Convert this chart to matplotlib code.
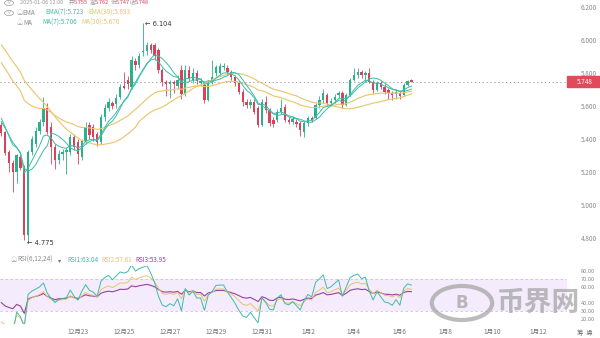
import numpy as np
import pandas as pd
import matplotlib
matplotlib.use('Agg')
import matplotlib.pyplot as plt
import matplotlib.transforms as mtransforms
from matplotlib.patches import Rectangle, Circle

plt.rcParams['font.family'] = ['Noto Sans CJK SC', 'DejaVu Sans']

# 4h candles, 2024-12-19 16:00 -> 2025-01-06 12:00
start_time = '2024-12-19 16:00'

opens = [5.485, 5.44, 5.32, 5.255, 5.20, 5.29, 5.225, 4.82, 5.32, 5.37,
         5.45, 5.50, 5.59, 5.47, 5.35, 5.27, 5.31, 5.32, 5.32, 5.41,
         5.38, 5.29, 5.39, 5.485, 5.47, 5.43, 5.38, 5.53, 5.588, 5.62,
         5.61, 5.655, 5.72, 5.76, 5.715, 5.87, 5.85, 5.925, 5.93, 5.97,
         5.97, 5.94, 5.82, 5.745, 5.73, 5.745, 5.72, 5.82, 5.67, 5.82,
         5.76, 5.80, 5.74, 5.727, 5.636, 5.745, 5.80, 5.80, 5.836, 5.83,
         5.806, 5.776, 5.74, 5.685, 5.624, 5.606, 5.624, 5.59, 5.485, 5.624,
         5.576, 5.515, 5.515, 5.564, 5.594, 5.515, 5.50, 5.50, 5.497, 5.44,
         5.497, 5.527, 5.527, 5.606, 5.636, 5.667, 5.618, 5.636, 5.667, 5.68,
         5.606, 5.667, 5.758, 5.788, 5.806, 5.79, 5.80, 5.745, 5.697, 5.74,
         5.715, 5.697, 5.68, 5.675, 5.68, 5.667, 5.727, 5.755]
highs = [5.50, 5.45, 5.33, 5.27, 5.31, 5.31, 5.24, 5.33, 5.42, 5.47,
         5.52, 5.655, 5.62, 5.50, 5.37, 5.33, 5.34, 5.35, 5.43, 5.43,
         5.40, 5.40, 5.50, 5.50, 5.49, 5.44, 5.55, 5.61, 5.65, 5.63,
         5.67, 5.73, 5.806, 5.78, 5.90, 5.89, 5.92, 6.104, 5.99, 5.98,
         5.98, 5.95, 5.83, 5.76, 5.76, 5.76, 5.79, 5.85, 5.85, 5.84,
         5.83, 5.82, 5.77, 5.75, 5.76, 5.88, 5.85, 5.86, 5.86, 5.85,
         5.82, 5.79, 5.75, 5.70, 5.64, 5.64, 5.64, 5.60, 5.64, 5.66,
         5.59, 5.53, 5.58, 5.64, 5.61, 5.53, 5.54, 5.52, 5.51, 5.51,
         5.54, 5.54, 5.62, 5.66, 5.70, 5.68, 5.65, 5.67, 5.69, 5.69,
         5.68, 5.77, 5.83, 5.83, 5.82, 5.81, 5.83, 5.76, 5.75, 5.75,
         5.73, 5.71, 5.69, 5.70, 5.69, 5.74, 5.76, 5.762]
lows = [5.42, 5.30, 5.20, 5.08, 5.13, 5.21, 4.79, 4.775, 5.30, 5.35,
        5.43, 5.48, 5.43, 5.25, 5.22, 5.25, 5.27, 5.19, 5.30, 5.33,
        5.25, 5.27, 5.37, 5.40, 5.39, 5.36, 5.37, 5.51, 5.57, 5.58,
        5.59, 5.64, 5.70, 5.70, 5.70, 5.82, 5.83, 5.90, 5.91, 5.92,
        5.88, 5.80, 5.72, 5.66, 5.65, 5.68, 5.70, 5.64, 5.66, 5.75,
        5.74, 5.73, 5.72, 5.62, 5.63, 5.73, 5.78, 5.79, 5.82, 5.79,
        5.76, 5.72, 5.67, 5.60, 5.59, 5.59, 5.55, 5.47, 5.48, 5.56,
        5.48, 5.47, 5.50, 5.55, 5.50, 5.49, 5.49, 5.47, 5.42, 5.41,
        5.48, 5.50, 5.52, 5.59, 5.62, 5.60, 5.60, 5.62, 5.65, 5.59,
        5.60, 5.66, 5.75, 5.77, 5.77, 5.745, 5.74, 5.68, 5.69, 5.70,
        5.67, 5.64, 5.636, 5.64, 5.645, 5.66, 5.72, 5.747]
closes = [5.436, 5.315, 5.255, 5.20, 5.30, 5.225, 4.82, 5.32, 5.40, 5.45,
          5.50, 5.59, 5.44, 5.35, 5.27, 5.31, 5.32, 5.33, 5.41, 5.35,
          5.31, 5.39, 5.47, 5.424, 5.41, 5.38, 5.53, 5.59, 5.624, 5.60,
          5.65, 5.715, 5.71, 5.73, 5.88, 5.85, 5.90, 5.935, 5.97, 5.94,
          5.90, 5.82, 5.745, 5.73, 5.745, 5.73, 5.76, 5.67, 5.82, 5.77,
          5.80, 5.75, 5.75, 5.636, 5.745, 5.776, 5.836, 5.84, 5.84, 5.806,
          5.776, 5.74, 5.685, 5.624, 5.606, 5.624, 5.564, 5.485, 5.624, 5.576,
          5.497, 5.49, 5.564, 5.588, 5.515, 5.503, 5.52, 5.49, 5.455, 5.497,
          5.527, 5.515, 5.606, 5.636, 5.68, 5.618, 5.63, 5.655, 5.68, 5.606,
          5.667, 5.758, 5.788, 5.806, 5.788, 5.80, 5.745, 5.697, 5.74, 5.715,
          5.685, 5.68, 5.667, 5.685, 5.66, 5.727, 5.752, 5.748]

# closes before the visible window (needed for the moving averages / RSI)
warmup_closes = [6.25, 6.30, 6.25, 6.20, 6.25, 6.30, 6.25, 6.20, 6.25, 6.30,
                 6.25, 6.25, 6.20, 6.20, 6.15, 6.10, 6.00, 5.95, 5.90, 5.85,
                 5.80, 5.70, 5.65, 5.60, 5.55, 5.50, 5.50, 5.50, 5.45]

tick_dates = ['2024-12-23', '2024-12-25', '2024-12-27', '2024-12-29', '2024-12-31',
              '2025-01-02', '2025-01-04', '2025-01-06', '2025-01-08', '2025-01-10',
              '2025-01-12']
tick_labels = ['12月23', '12月25', '12月27', '12月29', '12月31',
               '1月2', '1月4', '1月6', '1月8', '1月10', '1月12']
price_ticks = [4.8, 5.0, 5.2, 5.4, 5.6, 5.8, 6.0, 6.2]
rsi_ticks = [20, 30, 40, 60, 70, 80]

GREEN = '#2bb089'
RED = '#d8435b'
TEAL = '#3dbcaa'
YELLOW = '#e9c46a'
PURPLE = '#9b3f9f'
GRAY = '#8a8a8a'

n = len(closes)
x = np.arange(n)
t0 = pd.Timestamp(start_time)
tick_pos = [(pd.Timestamp(d) - t0) / pd.Timedelta('4h') for d in tick_dates]

full = pd.Series(warmup_closes + closes)
ema7 = full.ewm(span=7, adjust=False).mean().values[-n:]
ema30 = full.ewm(span=30, adjust=False).mean().values[-n:]
ma7 = full.rolling(7).mean().values[-n:]
ma30 = full.rolling(30).mean().values[-n:]


def rsi(s, period):
    d = s.diff()
    up = d.clip(lower=0).ewm(alpha=1 / period, adjust=False).mean()
    dn = (-d.clip(upper=0)).ewm(alpha=1 / period, adjust=False).mean()
    return (100 * up / (up + dn)).values[-n:]


rsi1, rsi2, rsi3 = rsi(full, 6), rsi(full, 12), rsi(full, 24)

W, H = 600, 338
fig = plt.figure(figsize=(6, 3.38), dpi=100)
fig.patch.set_facecolor('white')

# ---- price panel
ax = fig.add_axes([0, 1 - 250 / H, 567 / W, 250 / H])
ax.set_xlim(-0.34, 147.6)
ax.set_ylim(4.727, 6.242)
for s in ax.spines.values():
    s.set_visible(False)

o = np.array(opens)
c = np.array(closes)
up = c >= o
cols = np.where(up, GREEN, RED)
ax.vlines(x, lows, highs, colors=cols, lw=0.6, zorder=2)
body = np.where(np.abs(c - o) < 0.006, 0.006, c - o)
ax.bar(x, body, bottom=o, width=0.62, color=cols, lw=0, zorder=3)

ax.plot(x, ma30, color=YELLOW, lw=0.8, zorder=4)
ax.plot(x, ema30, color=YELLOW, lw=0.8, zorder=4)
ax.plot(x, ma7, color=TEAL, lw=0.7, zorder=4)
ax.plot(x, ema7, color=TEAL, lw=0.7, zorder=4)

last = closes[-1]
ax.axhline(last, color='#9a9a9a', lw=0.7, ls=(0, (1.2, 2.8)), zorder=1)

ax.yaxis.tick_right()
ax.set_yticks(price_ticks)
ax.set_yticklabels([f'{v:.3f}' for v in price_ticks])
ax.tick_params(axis='y', length=0, pad=10, labelsize=4.6, labelcolor=GRAY)
ax.tick_params(axis='x', length=0, labelbottom=False)

blend = mtransforms.blended_transform_factory(ax.transAxes, ax.transData)
ax.add_patch(Rectangle((1.0, last - 0.032), 0.058, 0.064, transform=blend,
                       color='#e04a5a', clip_on=False, zorder=5))
ax.text(1.0176, last, f'{last:.3f}', transform=blend, color='white',
        fontsize=4.6, va='center', ha='left', zorder=6)

i_hi = int(np.argmax(highs))
i_lo = int(np.argmin(lows))
ax.annotate(f'← {highs[i_hi]:.3f}', (x[i_hi], highs[i_hi]), xytext=(1.5, -1),
            textcoords='offset points', fontsize=4.8, color='#333333',
            va='center', ha='left', family=['DejaVu Sans'])
ax.annotate(f'← {lows[i_lo]:.3f}', (x[i_lo], lows[i_lo]), xytext=(-1, -1),
            textcoords='offset points', fontsize=4.8, color='#333333',
            va='center', ha='left', family=['DejaVu Sans'])

# ---- RSI panel
rx = fig.add_axes([0, 1 - 324 / H, 567 / W, 58 / H])
rx.set_xlim(-0.34, 147.6)
rx.set_ylim(13.75, 86.25)
for s in rx.spines.values():
    s.set_visible(False)
rx.axhspan(30, 70, color='#f4ebfc', lw=0, zorder=0)
rx.axhline(70, color='#d9b8ec', lw=0.6, ls=(0, (3, 3)), zorder=1)
rx.axhline(30, color='#d9b8ec', lw=0.6, ls=(0, (3, 3)), zorder=1)
rx.plot(x, rsi3, color=PURPLE, lw=0.8, zorder=3)
rx.plot(x, rsi2, color=YELLOW, lw=0.7, zorder=3)
rx.plot(x, rsi1, color=TEAL, lw=0.7, zorder=3)
rx.yaxis.tick_right()
rx.set_yticks(rsi_ticks)
rx.set_yticklabels([f'{v:.2f}' for v in rsi_ticks])
rx.tick_params(axis='y', length=0, pad=10, labelsize=4.1, labelcolor=GRAY)
rx.set_xticks(tick_pos)
rx.set_xticklabels(tick_labels)
rx.tick_params(axis='x', length=0, pad=3.0, labelsize=4.8, labelcolor='#777777')


# ---- header texts (pixel positions)
def fx(px):
    return px / W


def fy(py):
    return 1 - py / H


def hdr(px, py, s, color, size=4.6, **kw):
    fig.text(fx(px), fy(py), s, color=color, fontsize=size, va='center',
             ha='left', **kw)


for cy in (3, 13):
    fig.add_artist(Circle((fx(9), fy(cy)), 0.0075, transform=fig.transFigure,
                          fill=False, ec='#9a9a9a', lw=0.5))
    hdr(6.6, cy - 0.5, '∨', '#8a8a8a', size=3.4)
hdr(20, 3, '2025-01-06 12:00', '#9a9a9a', size=4.0)
hdr(69, 3, '开', '#9a9a9a', size=4.1)
hdr(74, 3, '5.755', RED, size=4.1)
hdr(90, 3, '高', '#9a9a9a', size=4.1)
hdr(95, 3, '5.762', RED, size=4.1)
hdr(111, 3, '低', '#9a9a9a', size=4.1)
hdr(116, 3, '5.747', RED, size=4.1)
hdr(130, 3, '收', '#9a9a9a', size=4.1)
hdr(135, 3, '5.748', RED, size=4.1)

hdr(16, 13, '♤', '#9a9a9a')
hdr(22, 13, 'EMA', '#8a8a8a')
hdr(45, 13, 'EMA(7):5.723', TEAL)
hdr(88, 13, 'EMA(30):5.693', YELLOW)
hdr(16, 23, '♤', '#9a9a9a')
hdr(23, 23, 'MA', '#8a8a8a')
hdr(42, 23, 'MA(7):5.706', TEAL)
hdr(81, 23, 'MA(30):5.676', YELLOW)

hdr(10, 260, '♤', '#9a9a9a')
hdr(17, 260, 'RSI(6,12,24)', '#8a8a8a')
hdr(58, 260, '▾', '#777777')
hdr(67, 260, 'RSI1:63.04', TEAL)
hdr(101, 260, 'RSI2:57.61', YELLOW)
hdr(135, 260, 'RSI3:53.95', PURPLE)

hdr(577, 333, '筹  操', '#777777', size=4.6)

# ---- watermark
fig.add_artist(Circle((fx(462), fy(303)), 17 / H, transform=fig.transFigure,
                      fill=False, ec='#a0a0a0', lw=3.0, alpha=0.7, zorder=10))
fig.text(fx(462), fy(303), 'B', color='#a0a0a0', alpha=0.7, fontsize=12,
         fontweight='bold', ha='center', va='center', zorder=10,
         family=['DejaVu Sans'])
fig.text(fx(538), fy(303), '币界网', color='#a0a0a0', alpha=0.7, fontsize=20,
         fontweight='bold', ha='center', va='center', zorder=10)

fig.savefig('out.png', dpi=100, facecolor='white')
